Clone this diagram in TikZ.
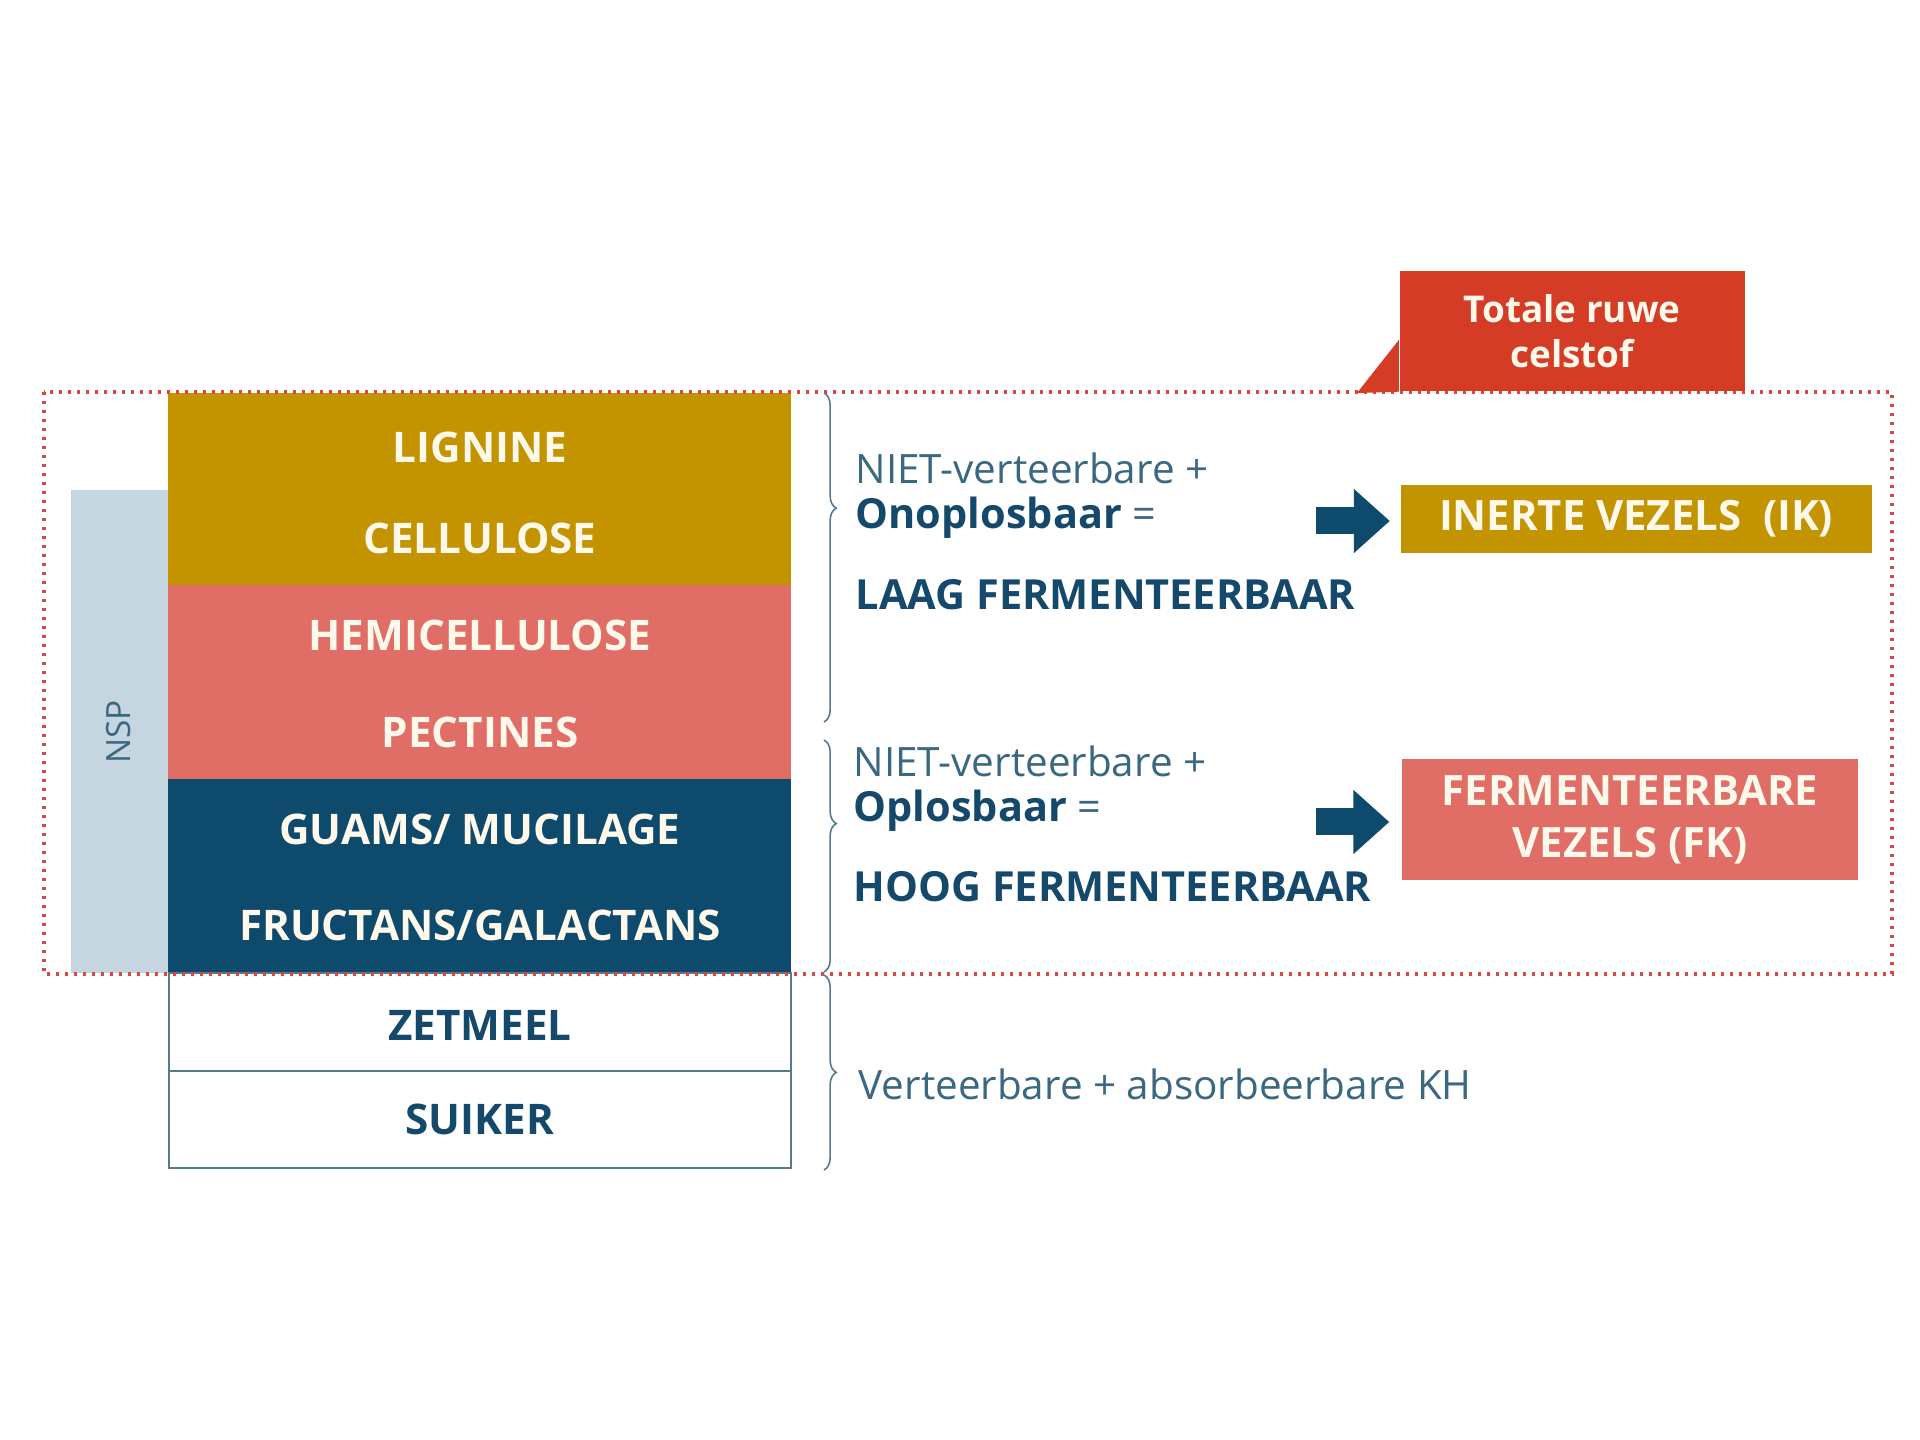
\documentclass[tikz,border=0pt]{standalone}
\usepackage{fontspec}
\setmainfont{Open Sans}
\usetikzlibrary{positioning, calc, arrows.meta, decorations.pathreplacing}

\definecolor{goud}{HTML}{C39300}
\definecolor{roze}{HTML}{E06D66}
\definecolor{marine}{HTML}{0D4A6C}
\definecolor{grijsblauw}{HTML}{C6D6E0}
\definecolor{rood}{HTML}{D43C26}
\definecolor{stip}{HTML}{D9473F}
\definecolor{tekst}{HTML}{14496B}
\definecolor{lichttekst}{HTML}{3A6880}
\definecolor{lijn}{HTML}{56798D}
\definecolor{room}{HTML}{FFF9EC}

\tikzset{
  laag/.style={font=\bfseries\fontsize{12}{14.5}\selectfont, text=room},
  kader/.style={draw=lijn, line width=0.5pt, fill=white},
  uitleg/.style={anchor=west, inner sep=0pt, text=lichttekst, font=\fontsize{11.5}{14}\selectfont},
  vet/.style={anchor=west, inner sep=0pt, text=tekst, font=\bfseries\fontsize{11.8}{14}\selectfont},
  accolade/.style={draw=lijn, line width=0.45pt, decorate, decoration={brace, amplitude=3.5pt, aspect=#1}},
  pijl/.style={-{Triangle[length=3.6mm, width=6.2mm]}, line width=2.7mm, draw=marine},
  vak/.style={inner sep=0pt, text=room, font=\bfseries\fontsize{11.9}{14.8}\selectfont, align=center}
}

\begin{document}
\begin{tikzpicture}[x=0.1mm, y=-0.1mm]
  \useasboundingbox (0,0) rectangle (1920,1440);

  % kolom met lagen
  \fill[grijsblauw] (71,490) rectangle (168,973); %NSP balk
  \fill[goud] (168,393) rectangle (791,585);
  \fill[roze] (168,585) rectangle (791,779);
  \fill[marine] (168,779) rectangle (791,973);
  \draw[kader] (169,973) rectangle (791,1071);
  \draw[kader] (169,1071) rectangle (791,1168);

  \node[rotate=90, text=lichttekst, font=\fontsize{9.5}{12}\selectfont] (nsp) at (119,732) {NSP};

  \node[laag] (lignine) at (480,447) {LIGNINE};
  \node[laag] (cellulose) at (480,538) {CELLULOSE};
  \node[laag] (hemi) at (480,635) {HEMICELLULOSE};
  \node[laag] (pectines) at (480,732) {PECTINES};
  \node[laag] (guams) at (480,829) {GUAMS/ MUCILAGE};
  \node[laag] (fructans) at (480,925) {FRUCTANS/GALACTANS};
  \node[laag, text=tekst] (zetmeel) at (480,1025) {ZETMEEL};
  \node[laag, text=tekst] (suiker) at (480,1119) {SUIKER};

  % stippellijn totale ruwe celstof
  \draw[stip, line width=0.35mm, dash pattern=on 0.35mm off 0.55mm] (44,392) rectangle (1892,974);

  % accolades
  \draw[accolade=0.35] (824,393) -- (824,722);
  \draw[accolade=0.36] (824,740) -- (824,972);
  \draw[accolade=0.5] (824,975) -- (824,1170);

  % uitleg
  \node[uitleg] (niet1) at (855,468) {NIET-verteerbare +};
  \node[vet] (onopl) at (855,518) {Onoplosbaar \mdseries\color{lichttekst}=};
  \node[vet] (laag) at (855,595) {LAAG FERMENTEERBAAR};
  \node[uitleg] (niet2) at (853,761) {NIET-verteerbare +};
  \node[vet] (opl) at (853,811) {Oplosbaar \mdseries\color{lichttekst}=};
  \node[vet] (hoog) at (853,887) {HOOG FERMENTEERBAAR};
  \node[uitleg] (verteer) at (858,1084) {Verteerbare + absorbeerbare KH};

  % vakken rechts
  \node[vak, fill=goud, minimum width=471*0.1mm, minimum height=68*0.1mm] (ik) at (1636,519) {INERTE VEZELS\ \ (IK)};
  \node[vak, fill=roze, minimum width=456*0.1mm, minimum height=121*0.1mm] (fk) at (1630,820) {FERMENTEERBARE\\VEZELS (FK)};

  \coordinate (p1) at (1316,521);
  \coordinate (p2) at (1316,822);
  \draw[pijl, shorten >=1mm] (p1) -- (p1 -| ik.west);
  \draw[pijl, shorten >=1.2mm] (p2) -- (p2 -| fk.west);

  % ballon
  \node[vak, fill=rood, minimum width=345*0.1mm, minimum height=120*0.1mm, font=\bfseries\fontsize{10.5}{12.8}\selectfont] (ballon) at (1572,331) {Totale ruwe\\celstof};
  \coordinate (punt) at (1357,393);
  \fill[rood] (punt) -- (ballon.west |- 0,340) -- (ballon.south west) -- cycle;
\end{tikzpicture}
\end{document}
